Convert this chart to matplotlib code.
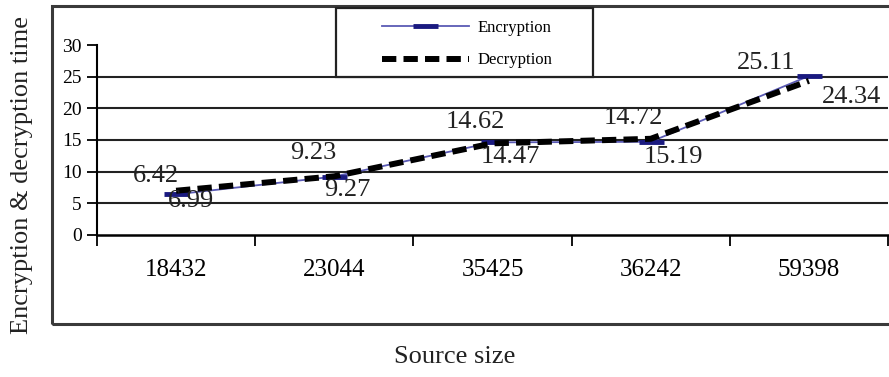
import numpy as np
import matplotlib.pyplot as plt
from matplotlib.patches import Rectangle

sizes = ['18432', '23044', '35425', '36242', '59398']
enc = [6.42, 9.23, 14.62, 14.72, 25.11]
dec = [6.99, 9.27, 14.47, 15.19, 24.34]

# label offsets in pixels (dx, dy)
enc_off = [(-20, 18), (-21, 24), (-17, 20), (-17, 24), (-43, 13)]
dec_off = [(15, -10), (13, -14), (18, -14), (23, -18), (43, -16)]

plt.rcParams['font.family'] = 'Liberation Serif'

fig = plt.figure(figsize=(8.89, 3.77), dpi=100)
fig.patch.set_facecolor('white')

# chart area frame
fig.patches.append(Rectangle((52/889, 1-324/377), 1.0, 318/377, transform=fig.transFigure,
                             fill=False, edgecolor='#3a3a3a', lw=2.2, zorder=0))

ax = fig.add_axes([97/889, 1-235/377, 791/889, 190/377])
x = np.arange(len(sizes))

ax.plot(x, enc, color='#5a5ab4', lw=1.3, marker='_', ms=18, mew=3.5, mec='#1a1a80',
        label='Encryption', zorder=3)
ax.plot(x, dec, color='black', lw=4.3, dashes=(2.4, 1.2), label='Decryption', zorder=4)

for i in range(len(x)):
    ax.annotate('%.2f' % enc[i], (x[i], enc[i]), xytext=enc_off[i], textcoords='offset pixels',
                ha='center', va='center', fontsize=19, color='#222222', zorder=5)
    ax.annotate('%.2f' % dec[i], (x[i], dec[i]), xytext=dec_off[i], textcoords='offset pixels',
                ha='center', va='center', fontsize=19, color='#222222', zorder=5)

ax.set_xlim(-0.5, 4.5)
ax.set_ylim(0, 30)
ax.set_yticks([0, 5, 10, 15, 20, 25, 30])
ax.tick_params(axis='y', labelsize=14, length=7, width=1.3, direction='out', pad=4)
for v in [5, 10, 15, 20, 25]:
    ax.axhline(v, color='#222222', lw=1.5, zorder=1)

ax.set_xticks(np.arange(-0.5, 5, 1))
ax.set_xticklabels([])
ax.tick_params(axis='x', which='major', length=8, width=1.3, direction='out')
ax.set_xticks(x, minor=True)
ax.set_xticklabels(sizes, minor=True)
ax.tick_params(axis='x', which='minor', length=0, labelsize=18, pad=17)

for s in ['top', 'right']:
    ax.spines[s].set_visible(False)
ax.spines['left'].set_linewidth(1.5)
ax.spines['bottom'].set_linewidth(1.8)
ax.set_facecolor('none')

fig.text(22/889, 1-175/377, 'Encryption & decryption time', rotation=90,
         ha='center', va='center', fontsize=19, color='#222222')
fig.text(455/889, 1-357/377, 'Source size', ha='center', va='center', fontsize=19, color='#222222')

# legend box
fig.patches.append(Rectangle((336/889, 1-77/377), 257/889, 69/377, transform=fig.transFigure,
                             facecolor='white', edgecolor='#222222', lw=1.6, zorder=6))
leg = fig.legend(loc='center', bbox_to_anchor=(467/889, 1-44/377), frameon=False,
                 fontsize=12, handlelength=5.2, labelspacing=1.0, handletextpad=0.5)
leg.set_zorder(7)

fig.savefig('out.png', dpi=100)
